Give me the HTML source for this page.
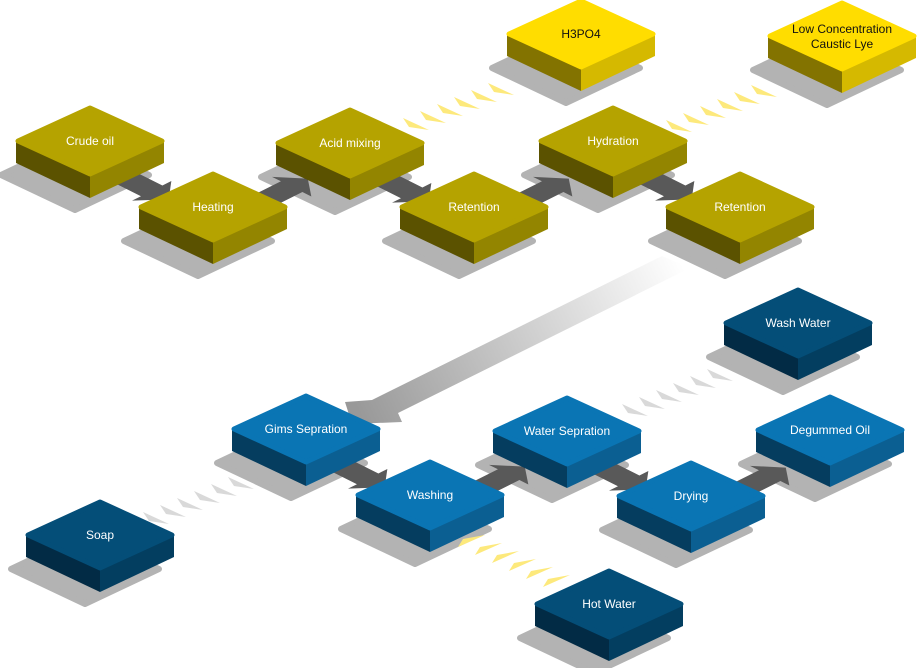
<!DOCTYPE html>
<html><head><meta charset="utf-8"><style>
html,body{margin:0;padding:0;background:#fff;}
svg{display:block}
text{font-family:"Liberation Sans",sans-serif;font-size:12px;text-anchor:middle;}
.ol{--t:#b5a300;--l:#5b5200;--r:#938500}
.ye{--t:#ffdd00;--l:#837300;--r:#d5b900}
.bl{--t:#0a75b4;--l:#053d5f;--r:#0b5f92}
.nv{--t:#044e78;--l:#022b45;--r:#033e60}
.w{fill:#fff}.k{fill:#111}
</style></head><body>
<svg width="917" height="668" viewBox="0 0 917 668" xmlns="http://www.w3.org/2000/svg">
<defs>
<path id="sh" d="M-89,34 L-15,-1 L59,34 L-15,69 Z" fill="#b3b3b3" stroke="#b3b3b3" stroke-width="6" stroke-linejoin="round"/>
<g id="blk">
<path style="fill:var(--l)" d="M-74,0 L0,35 L0,57 L-74,22 Z"/>
<path style="fill:var(--r)" d="M0,35 L74,0 L74,22 L0,57 Z"/>
<path style="fill:var(--t);stroke:var(--t)" d="M-72,0 L0,-33 L72,0 L0,33 Z" stroke-linejoin="round" stroke-width="5"/>
</g>
<path id="cy" d="M0,0 L26,12 L6,9 Z" fill="#fde97c"/>
<path id="cg" d="M0,0 L26,12 L6,9 Z" fill="#d9d9d9"/>
<path id="ch" d="M0,0 L27,-12 L5,-8 Z" fill="#fde97c"/>
<linearGradient id="gg" x1="680" y1="260" x2="360" y2="415" gradientUnits="userSpaceOnUse">
<stop offset="0" stop-color="#ffffff"/><stop offset="1" stop-color="#999999"/></linearGradient>
</defs>

<use href="#sh" x="581" y="34"/><use href="#sh" x="842" y="36"/>
<use href="#sh" x="90" y="141"/><use href="#sh" x="350" y="143"/><use href="#sh" x="613" y="141"/>
<use href="#sh" x="213" y="207"/><use href="#sh" x="474" y="207"/><use href="#sh" x="740" y="207"/>
<use href="#sh" x="798" y="323"/>
<use href="#sh" x="306" y="429"/><use href="#sh" x="567" y="431"/><use href="#sh" x="830" y="430"/>
<use href="#sh" x="430" y="495"/><use href="#sh" x="691" y="496"/>
<use href="#sh" x="100" y="535"/><use href="#sh" x="609" y="604"/>

<polygon points="662,256 690,268 398,413 402,422 352,424 345,402 372,400" fill="url(#gg)"/>

<g fill="#595959">
<g transform="matrix(0.894,0.447,0.894,-0.447,90,160)"><path d="M0,-12 L69,-12 L69,-22 L88,0 L69,22 L69,12 L0,12 Z"/></g>
<g transform="matrix(0.894,0.447,0.894,-0.447,350,162)"><path d="M0,-12 L69,-12 L69,-22 L88,0 L69,22 L69,12 L0,12 Z"/></g>
<g transform="matrix(0.894,0.447,0.894,-0.447,613,160)"><path d="M0,-12 L69,-12 L69,-22 L88,0 L69,22 L69,12 L0,12 Z"/></g>
<g transform="matrix(0.894,0.447,0.894,-0.447,306,448)"><path d="M0,-12 L69,-12 L69,-22 L88,0 L69,22 L69,12 L0,12 Z"/></g>
<g transform="matrix(0.894,0.447,0.894,-0.447,567,450)"><path d="M0,-12 L69,-12 L69,-22 L88,0 L69,22 L69,12 L0,12 Z"/></g>
<g transform="matrix(0.894,-0.447,0.894,0.447,213,226)"><path d="M0,-12 L88,-12 L88,-22 L106,0 L88,22 L88,12 L0,12 Z"/></g>
<g transform="matrix(0.894,-0.447,0.894,0.447,474,226)"><path d="M0,-12 L88,-12 L88,-22 L106,0 L88,22 L88,12 L0,12 Z"/></g>
<g transform="matrix(0.894,-0.447,0.894,0.447,430,514)"><path d="M0,-12 L88,-12 L88,-22 L106,0 L88,22 L88,12 L0,12 Z"/></g>
<g transform="matrix(0.894,-0.447,0.894,0.447,691,515)"><path d="M0,-12 L88,-12 L88,-22 L106,0 L88,22 L88,12 L0,12 Z"/></g>
</g>

<use href="#cy" x="403" y="118"/><use href="#cy" x="420" y="111"/><use href="#cy" x="437" y="104"/><use href="#cy" x="454" y="97"/><use href="#cy" x="471" y="90"/><use href="#cy" x="488" y="83"/>
<use href="#cy" x="666" y="120"/><use href="#cy" x="683" y="113"/><use href="#cy" x="700" y="106"/><use href="#cy" x="717" y="99"/><use href="#cy" x="734" y="92"/><use href="#cy" x="751" y="85"/>
<use href="#cg" x="622" y="404"/><use href="#cg" x="639" y="397"/><use href="#cg" x="656" y="390"/><use href="#cg" x="673" y="383"/><use href="#cg" x="690" y="376"/><use href="#cg" x="707" y="369"/>
<use href="#cg" x="143" y="512"/><use href="#cg" x="160" y="505"/><use href="#cg" x="177" y="498"/><use href="#cg" x="194" y="491"/><use href="#cg" x="211" y="484"/><use href="#cg" x="228" y="477"/>
<use href="#ch" x="458" y="547"/><use href="#ch" x="475" y="555"/><use href="#ch" x="492" y="563"/><use href="#ch" x="509" y="571"/><use href="#ch" x="526" y="579"/><use href="#ch" x="543" y="587"/>

<g class="ye"><use href="#blk" x="581" y="34"/></g>
<g class="ye"><use href="#blk" x="842" y="36"/></g>
<g class="ol"><use href="#blk" x="90" y="141"/></g>
<g class="ol"><use href="#blk" x="613" y="141"/></g>
<g class="ol"><use href="#blk" x="350" y="143"/></g>
<g class="ol"><use href="#blk" x="213" y="207"/></g>
<g class="ol"><use href="#blk" x="474" y="207"/></g>
<g class="ol"><use href="#blk" x="740" y="207"/></g>
<g class="nv"><use href="#blk" x="798" y="323"/></g>
<g class="bl"><use href="#blk" x="306" y="429"/></g>
<g class="bl"><use href="#blk" x="830" y="430"/></g>
<g class="bl"><use href="#blk" x="567" y="431"/></g>
<g class="bl"><use href="#blk" x="430" y="495"/></g>
<g class="bl"><use href="#blk" x="691" y="496"/></g>
<g class="nv"><use href="#blk" x="100" y="535"/></g>
<g class="nv"><use href="#blk" x="609" y="604"/></g>

<text class="k" x="581" y="38">H3PO4</text>
<text class="k" x="842" y="33">Low Concentration</text>
<text class="k" x="842" y="48">Caustic Lye</text>
<text class="w" x="90" y="145">Crude oil</text>
<text class="w" x="613" y="145">Hydration</text>
<text class="w" x="350" y="147">Acid mixing</text>
<text class="w" x="213" y="211">Heating</text>
<text class="w" x="474" y="211">Retention</text>
<text class="w" x="740" y="211">Retention</text>
<text class="w" x="798" y="327">Wash Water</text>
<text class="w" x="306" y="433">Gims Sepration</text>
<text class="w" x="830" y="434">Degummed Oil</text>
<text class="w" x="567" y="435">Water Sepration</text>
<text class="w" x="430" y="499">Washing</text>
<text class="w" x="691" y="500">Drying</text>
<text class="w" x="100" y="539">Soap</text>
<text class="w" x="609" y="608">Hot Water</text>
</svg>
</body></html>
